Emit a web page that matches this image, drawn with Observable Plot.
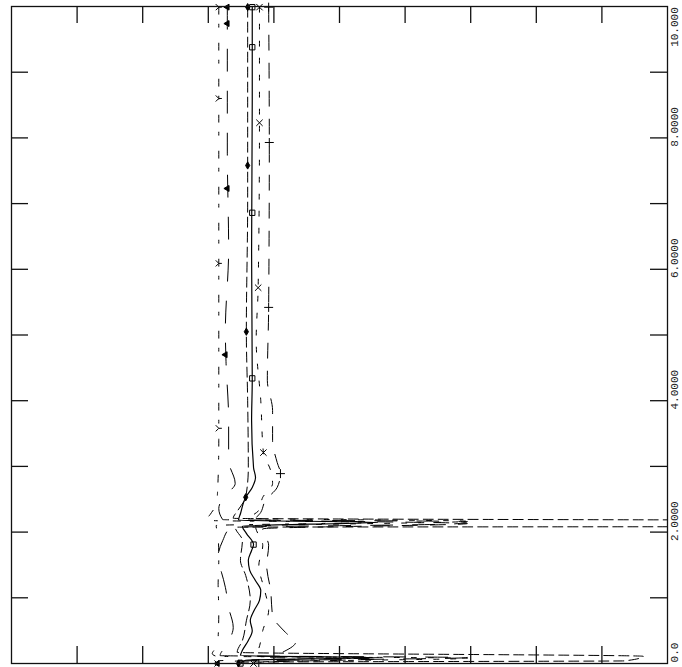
<!DOCTYPE html>
<html><head><meta charset="utf-8">
<script src="https://cdn.jsdelivr.net/npm/d3@7"></script>
<script src="https://cdn.jsdelivr.net/npm/@observablehq/plot@0.6"></script>
<style>body{margin:0;background:#fff}</style>
</head><body><div id="chart"></div>
<script>
// tick positions and right-side labels
const xTicks = [1, 2, 3, 4, 5, 6, 7, 8, 9];
const yTicks = [1, 2, 3, 4, 5, 6, 7, 8, 9];
const yLabelValues = [0, 2, 4, 6, 8, 10];
const yLabelTexts = ["0.0", "2.0000", "4.0000", "6.0000", "8.0000", "10.000"];

// profiles: [x, depth]
const seriesA = [[3.16,9.99],[3.16,8.6],[3.16,6.1],[3.16,3.4],[3.14,2.59],[3.11,2.40],[3.03,2.27],[2.99,2.21],[3.08,2.175],[5.58,2.15],[3.12,2.10],[3.15,1.95],[3.16,1.6],[3.15,1.2],[3.16,0.8],[3.15,0.4],[3.10,0.22],[3.06,0.15],[3.12,0.11],[5.58,0.09],[3.15,0.04],[3.14,0]];
const seriesB = [[3.29,9.99],[3.29,9.74],[3.29,7.8],[3.31,6.3],[3.26,5.07],[3.27,4.6],[3.31,3.7],[3.31,3.09],[3.41,2.74],[3.23,2.53],[3.16,2.36],[3.22,2.19],[6.95,2.16],[6.75,2.125],[3.34,2.07],[3.22,1.87],[3.14,1.57],[3.20,1.39],[3.26,1.16],[3.31,0.85],[3.38,0.55],[3.27,0.27],[3.18,0.12],[6.95,0.09],[3.26,0.03],[3.14,0]];
const seriesC = [[3.60,9.99],[3.60,7.05],[3.58,5.05],[3.60,4.0],[3.61,2.98],[3.57,2.53],[3.45,2.33],[3.38,2.21],[20,2.155],[20,2.09],[3.41,2.075],[3.52,1.87],[3.49,1.57],[3.57,1.34],[3.64,0.96],[3.58,0.65],[3.52,0.35],[3.44,0.17],[9.63,0.11],[9.35,0.04],[3.49,0.02],[3.46,0]];
const seriesD = [[3.67,9.99],[3.67,8.57],[3.66,6.29],[3.67,4.31],[3.66,3.70],[3.69,2.98],[3.72,2.83],[3.67,2.68],[3.57,2.53],[3.49,2.28],[3.46,2.18],[5.58,2.15],[3.52,2.09],[3.58,1.98],[3.69,1.81],[3.66,1.72],[3.61,1.57],[3.63,1.42],[3.72,1.26],[3.80,1.11],[3.78,0.96],[3.70,0.81],[3.64,0.65],[3.67,0.50],[3.61,0.35],[3.52,0.20],[3.49,0.12],[5.58,0.09],[3.57,0.05],[3.49,0]];
const seriesE = [[3.78,9.99],[3.78,8.23],[3.76,5.72],[3.73,4.92],[3.80,4.0],[3.84,3.21],[3.95,2.94],[3.98,2.74],[3.83,2.53],[3.77,2.33],[3.64,2.21],[6.95,2.165],[3.72,2.09],[3.83,1.80],[3.77,1.49],[3.86,1.11],[3.92,0.81],[3.83,0.50],[3.77,0.23],[3.72,0.11],[6.95,0.08],[3.73,0.02],[3.69,0]];
const seriesF = [[3.92,9.99],[3.93,7.93],[3.92,5.42],[3.90,4.31],[3.98,3.85],[3.98,3.39],[4.05,3.06],[4.10,2.89],[4.05,2.68],[3.87,2.48],[3.80,2.30],[3.72,2.19],[6.95,2.13],[3.83,2.05],[3.92,1.80],[3.89,1.49],[3.95,1.11],[3.98,0.73],[4.18,0.47],[4.33,0.32],[4.13,0.17],[3.95,0.09],[5.58,0.07],[3.83,0.02],[3.77,0]];

// marker positions along each profile
const markersA = [[3.16,9.99],[3.16,8.60],[3.16,6.09],[3.16,3.58],[3.14,0]];
const markersB = [[3.29,9.99],[3.29,9.74],[3.29,7.23],[3.26,4.70],[3.14,0]];
const markersC = [[3.60,9.99],[3.60,7.58],[3.58,5.05],[3.57,2.53],[3.46,0]];
const markersD = [[3.67,9.99],[3.67,9.38],[3.67,6.86],[3.67,4.34],[3.69,1.81],[3.49,0]];
const markersE = [[3.78,9.99],[3.78,8.23],[3.76,5.72],[3.84,3.21],[3.69,0]];
const markersF = [[3.92,9.99],[3.93,7.93],[3.92,5.42],[4.10,2.89],[3.77,0]];

// ">-" shaped marker
const symbolArrow = {
  draw(context, size) {
    const r = Math.sqrt(size) / 2.2;
    context.moveTo(-r, -r); context.lineTo(0, 0); context.lineTo(-r, r);
    context.moveTo(0, 0); context.lineTo(r, 0);
  }
};

const styles = [
  {pts: seriesA, mk: markersA, dash: "7,10,3,16", symbol: symbolArrow, r: 3.8, rotate: 0, fill: "none"},
  {pts: seriesB, mk: markersB, dash: "22,20", symbol: "triangle", r: 2.2, rotate: -90, fill: "#000"},
  {pts: seriesC, mk: markersC, dash: "10,5", symbol: "diamond", r: 2.2, rotate: 0, fill: "#000"},
  {pts: seriesD, mk: markersD, dash: null, symbol: "square", r: 3, rotate: 0, fill: "none"},
  {pts: seriesE, mk: markersE, dash: "5,12", symbol: "times", r: 3, rotate: 0, fill: "none"},
  {pts: seriesF, mk: markersF, dash: "15,13", symbol: "plus", r: 3, rotate: 0, fill: "none"}
];

const W = 682, H = 667;
const mL = 11, mR = 15, mT = 6, mB = 4;
const frameW = W - mL - mR, frameH = H - mT - mB, tickLen = 17;

const marks = [];
for (const s of styles) {
  marks.push(Plot.line(s.pts, {x: d => d[0], y: d => d[1], curve: "monotone-y",
    stroke: "#000", strokeWidth: s.dash ? 1 : 1.2, strokeDasharray: s.dash || undefined, clip: true}));
}
for (const s of styles) {
  marks.push(Plot.dot(s.mk, {x: d => d[0], y: d => d[1], symbol: () => s.symbol, r: s.r,
    rotate: s.rotate, stroke: "#000", strokeWidth: 1, fill: s.fill}));
}
marks.push(
  Plot.tickX(xTicks, {x: d => d, insetBottom: frameH - tickLen, stroke: "#111", strokeWidth: 1.3}),
  Plot.tickX(xTicks, {x: d => d, insetTop: frameH - tickLen, stroke: "#111", strokeWidth: 1.3}),
  Plot.tickY(yTicks, {y: d => d, insetRight: frameW - tickLen, stroke: "#111", strokeWidth: 1.3}),
  Plot.tickY(yTicks, {y: d => d, insetLeft: frameW - tickLen, stroke: "#111", strokeWidth: 1.3}),
  Plot.frame({stroke: "#111", strokeWidth: 1.3}),
  Plot.text(yLabelValues, {x: 10, y: d => Math.min(d, 9.52), text: (d, i) => yLabelTexts[i],
    rotate: -90, dx: 7, dy: -11, textAnchor: "middle", fontFamily: "Liberation Mono",
    fontSize: 11, fill: "#222"})
);

const chart = Plot.plot({
  width: W, height: H,
  marginLeft: mL, marginRight: mR, marginTop: mT, marginBottom: mB,
  x: {domain: [0, 10], axis: null},
  y: {domain: [0, 10], axis: null},
  style: {background: "#fff", overflow: "visible"},
  marks
});
document.getElementById("chart").appendChild(chart);
</script>
</body></html>
